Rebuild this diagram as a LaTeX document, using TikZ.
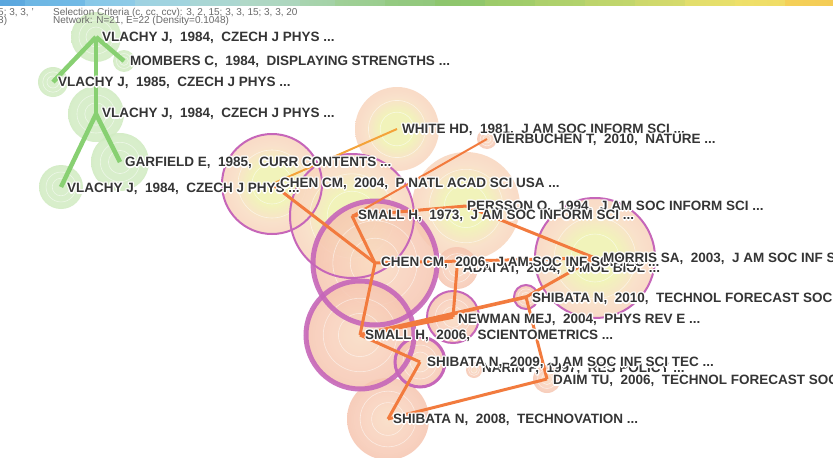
\documentclass[tikz,border=0pt]{standalone}
\usepackage{fontspec}
\setmainfont{Liberation Sans}
\definecolor{salmon}{HTML}{F3B8A2}
\definecolor{salmon2}{HTML}{F5C2AD}
\definecolor{peach}{HTML}{F9DCC2}
\definecolor{peach2}{HTML}{F8CFBA}
\definecolor{ycen}{HTML}{EFF2AE}
\definecolor{gout}{HTML}{C2E4B1}
\definecolor{gin}{HTML}{D4EDC6}
\definecolor{edgeor}{HTML}{F27B3E}
\definecolor{edgeyl}{HTML}{F4A33A}
\definecolor{edgegr}{HTML}{88D072}
\definecolor{ringmg}{HTML}{C666B9}
\definecolor{lblc}{HTML}{353535}
\definecolor{hdrc}{HTML}{6A6A6A}
\pgfdeclareradialshading{hotnode}{\pgfpoint{0bp}{0bp}}{color(0bp)=(ycen);color(10bp)=(ycen);color(19bp)=(peach);color(30bp)=(peach2);color(38bp)=(salmon2);color(50bp)=(salmon)}
\pgfdeclareradialshading{warmnode}{\pgfpoint{0bp}{0bp}}{color(0bp)=(peach);color(14bp)=(peach2);color(28bp)=(salmon2);color(50bp)=(salmon)}
\pgfdeclareradialshading{greennode}{\pgfpoint{0bp}{0bp}}{color(0bp)=(gin);color(22bp)=(gin);color(40bp)=(gout);color(50bp)=(gout)}
\newcommand\hl[1]{%
\rlap{\color{white}\kern1.3pt#1}%
\rlap{\color{white}\kern-1.3pt#1}%
\rlap{\color{white}\raisebox{1.3pt}{#1}}%
\rlap{\color{white}\raisebox{-1.3pt}{#1}}%
\rlap{\color{white}\kern0.95pt\raisebox{0.95pt}{#1}}%
\rlap{\color{white}\kern-0.95pt\raisebox{0.95pt}{#1}}%
\rlap{\color{white}\kern0.95pt\raisebox{-0.95pt}{#1}}%
\rlap{\color{white}\kern-0.95pt\raisebox{-0.95pt}{#1}}%
#1}
\newcommand\bub[4]{%
\shade[shading=#2, fill opacity=#4] (#1) circle[radius=#3pt];
\draw[wline] (#1) circle[radius={0.4*#3pt}];
\draw[wline] (#1) circle[radius={0.68*#3pt}];}
\newcommand\barseg[4]{\definecolor{segl}{HTML}{#3}\definecolor{segr}{HTML}{#4}%
\shade[left color=segl, right color=segr] (#1,0) rectangle (#2,5);}
\tikzset{
 wline/.style={draw=white, line width=0.6pt, draw opacity=0.55},
 lab/.style={anchor=base west, inner sep=0pt, text=lblc, font=\bfseries\fontsize{13.5}{15}\selectfont},
 hdr/.style={anchor=base west, inner sep=0pt, text=hdrc, font=\fontsize{10}{11}\selectfont},
 oedge/.style={draw=edgeor, line width=3pt},
 oedgewide/.style={draw=edgeor, line width=3.6pt},
 oedgethin/.style={draw=edgeor, line width=2pt},
 yedge/.style={draw=edgeyl, line width=2pt},
 gedge/.style={draw=edgegr, line width=4.5pt},
 ringthin/.style={draw=ringmg, line width=2pt},
 ringmid/.style={draw=ringmg, line width=3pt},
 ringthick/.style={draw=ringmg, line width=5pt, draw opacity=0.9},
}
\begin{document}
\begin{tikzpicture}[x=1pt,y=-1pt]
\clip (0,0) rectangle (833,458);
\fill[white] (0,0) rectangle (833,458);
% node centres
\coordinate (g1) at (96,37);
\coordinate (g2) at (124,61);
\coordinate (g3) at (53,82);
\coordinate (g4) at (96,114);
\coordinate (g5) at (120,162);
\coordinate (g6) at (61,187);
\coordinate (white) at (397,129);
\coordinate (vier) at (487,139);
\coordinate (chen04) at (272,184);
\coordinate (small73) at (352,216);
\coordinate (persson) at (466,206);
\coordinate (chen06) at (375,263);
\coordinate (adai) at (457,268);
\coordinate (morris) at (595,258);
\coordinate (shib10) at (526,297);
\coordinate (newman) at (453,317);
\coordinate (small06) at (360,335);
\coordinate (shib09) at (420,362);
\coordinate (narin) at (474,370);
\coordinate (daim) at (547,379);
\coordinate (shib08) at (388,419);
% bubbles
\bub{g1}{greennode}{25}{0.9}
\bub{g2}{greennode}{11}{0.9}
\bub{g3}{greennode}{15}{0.9}
\bub{g4}{greennode}{28}{0.9}
\bub{g5}{greennode}{29}{0.9}
\bub{g6}{greennode}{22}{0.9}
\bub{white}{hotnode}{42}{0.85}
\bub{vier}{warmnode}{10}{0.85}
\bub{persson}{hotnode}{54}{0.85}
\bub{morris}{hotnode}{60}{0.85}
\bub{chen04}{hotnode}{50}{0.85}
\bub{small73}{hotnode}{62}{0.85}
\bub{chen06}{warmnode}{62}{0.85}
\bub{adai}{warmnode}{21}{0.85}
\bub{newman}{warmnode}{26}{0.85}
\bub{shib10}{warmnode}{12}{0.85}
\bub{small06}{warmnode}{54}{0.85}
\bub{shib09}{warmnode}{25}{0.85}
\bub{narin}{warmnode}{8}{0.85}
\bub{daim}{warmnode}{14}{0.85}
\bub{shib08}{warmnode}{41}{0.85}
% rings
\draw[ringthin] (chen04) circle[radius=50pt];
\draw[ringthin] (small73) circle[radius=62pt];
\draw[ringthin] (morris) circle[radius=60pt];
\draw[ringthin] (newman) circle[radius=26pt];
\draw[ringthin] (shib10) circle[radius=12pt];
\draw[ringmid] (shib09) circle[radius=25pt];
\draw[ringthick] (chen06) circle[radius=62pt];
\draw[ringthick] (small06) circle[radius=54pt];
% edges
\draw[gedge] (g1) -- (g2);
\draw[gedge] (g1) -- (g3);
\draw[gedge] (g1) -- (g4);
\draw[gedge] (g4) -- (g5);
\draw[gedge] (g4) -- (g6);
\draw[yedge] (chen04) -- (white);
\draw[oedge] (chen04) -- (chen06);
\draw[oedgethin] (small73) -- (vier);
\draw[oedge] (small73) -- (persson);
\draw[oedge] (small73) -- (chen06);
\draw[oedge] (persson) -- (morris);
\draw[oedge] (chen06) -- (morris);
\draw[oedge] (chen06) -- (small06);
\draw[oedge] (adai) -- (newman);
\draw[oedgewide] (newman) -- (small06);
\draw[oedgewide] (small06) -- (shib10);
\draw[oedge] (shib10) -- (morris);
\draw[oedge] (shib10) -- (daim);
\draw[oedge] (small06) -- (shib09);
\draw[oedge] (shib09) -- (shib08);
\draw[oedge] (shib08) -- (daim);
% labels
\node[lab] (lg1) at (102,41.7) {\hl{VLACHY J,~~1984,~~CZECH J PHYS ...}};
\node[lab] (lg2) at (130,65.7) {\hl{MOMBERS C,~~1984,~~DISPLAYING STRENGTHS ...}};
\node[lab] (lg3) at (58,86.7) {\hl{VLACHY J,~~1985,~~CZECH J PHYS ...}};
\node[lab] (lg4) at (102,117.7) {\hl{VLACHY J,~~1984,~~CZECH J PHYS ...}};
\node[lab] (lg5) at (125,166.7) {\hl{GARFIELD E,~~1985,~~CURR CONTENTS ...}};
\node[lab] (lg6) at (67,192.7) {\hl{VLACHY J,~~1984,~~CZECH J PHYS ...}};
\node[lab] (lwhite) at (402,133.7) {\hl{WHITE HD,~~1981,~~J AM SOC INFORM SCI ...}};
\node[lab] (lvier) at (493,143.7) {\hl{VIERBUCHEN T,~~2010,~~NATURE ...}};
\node[lab] (lchen04) at (280,187.7) {\hl{CHEN CM,~~2004,~~P NATL ACAD SCI USA ...}};
\node[lab] (lpersson) at (467,210.7) {\hl{PERSSON O,~~1994,~~J AM SOC INFORM SCI ...}};
\node[lab] (lsmall73) at (358,219.7) {\hl{SMALL H,~~1973,~~J AM SOC INFORM SCI ...}};
\node[lab] (ladai) at (463,272.7) {\hl{ADAI AT,~~2004,~~J MOL BIOL ...}};
\node[lab] (lchen06) at (381,266.7) {\hl{CHEN CM,~~2006,~~J AM SOC INF SCI TEC ...}};
\node[lab] (lmorris) at (603,262.7) {\hl{MORRIS SA,~~2003,~~J AM SOC INF SCI TEC ...}};
\node[lab] (lshib10) at (532,302.7) {\hl{SHIBATA N,~~2010,~~TECHNOL FORECAST SOC ...}};
\node[lab] (lnewman) at (458,323.7) {\hl{NEWMAN MEJ,~~2004,~~PHYS REV E ...}};
\node[lab] (lsmall06) at (365,339.7) {\hl{SMALL H,~~2006,~~SCIENTOMETRICS ...}};
\node[lab] (lnarin) at (482,372.7) {\hl{NARIN F,~~1997,~~RES POLICY ...}};
\node[lab] (lshib09) at (427,366.7) {\hl{SHIBATA N,~~2009,~~J AM SOC INF SCI TEC ...}};
\node[lab] (ldaim) at (553,384.7) {\hl{DAIM TU,~~2006,~~TECHNOL FORECAST SOC ...}};
\node[lab] (lshib08) at (393,423.7) {\hl{SHIBATA N,~~2008,~~TECHNOVATION ...}};
% header colour bar
\barseg{0}{25}{5AA6DE}{5EAADF}
\barseg{25}{85}{6CB6E4}{72BAE5}
\barseg{85}{135}{88C8E8}{8ECBE7}
\barseg{135}{190}{9ED2E2}{A2D4DE}
\barseg{190}{240}{A8D6D6}{ACD7D0}
\barseg{240}{300}{B0D8C8}{ACD6BC}
\barseg{300}{335}{A8D4B0}{A4D2A6}
\barseg{335}{385}{A0D098}{9ACD8E}
\barseg{385}{435}{94CA82}{92C87C}
\barseg{435}{485}{8EC66E}{90C76C}
\barseg{485}{535}{9CCB6A}{A2CD6A}
\barseg{535}{585}{ACD06C}{B2D26C}
\barseg{585}{635}{BCD46C}{C2D66C}
\barseg{635}{685}{CCD86C}{D6DA6C}
\barseg{685}{735}{E2DE6C}{E8DF6B}
\barseg{735}{785}{EEE06A}{F0DC66}
\barseg{785}{833}{F4D058}{F4CC56}
\node[hdr] (h1) at (-2,15.2) {5; 3, 3, '};
\node[hdr] (h2) at (53,15.2) {Selection Criteria (c, cc, ccv): 3, 2, 15; 3, 3, 15; 3, 3, 20};
\node[hdr] (h3) at (-2,23.6) {3)};
\node[hdr] (h4) at (53,23.6) {Network: N=21, E=22 (Density=0.1048)};
\end{tikzpicture}
\end{document}
